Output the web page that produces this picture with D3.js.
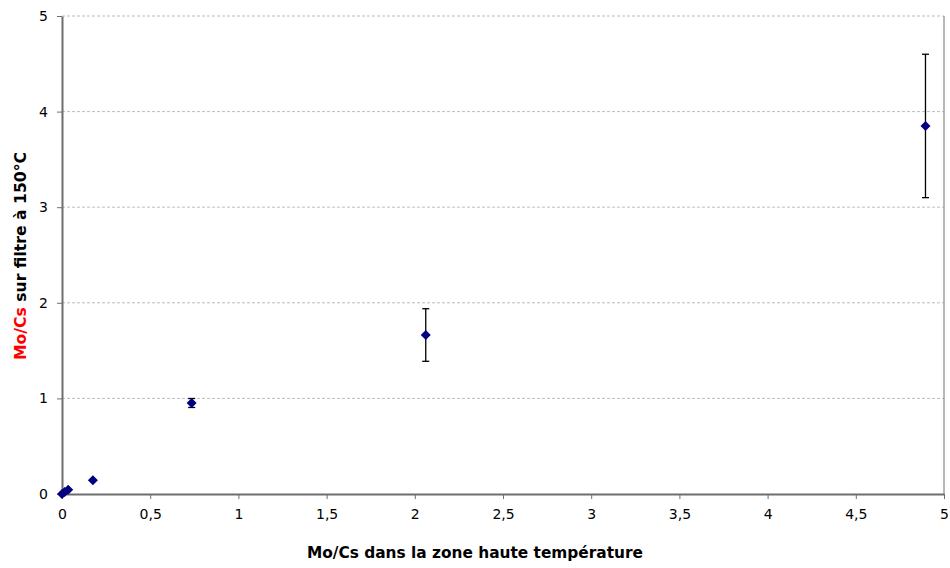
<!DOCTYPE html>
<html><head><meta charset="utf-8">
<script src="https://cdn.jsdelivr.net/npm/d3@7"></script>
<style>body{margin:0;background:#fff}svg{display:block}</style>
</head><body>
<svg id="c" width="950" height="568"></svg>
<script>
const xValues = [0, 0.015, 0.035, 0.175, 0.735, 2.062, 4.895];
const yValues = [0, 0.02, 0.045, 0.145, 0.952, 1.663, 3.85];
const yErrors = [0, 0, 0, 0, 0.047, 0.275, 0.75];
const xTicks = [0, 0.5, 1, 1.5, 2, 2.5, 3, 3.5, 4, 4.5, 5];
const yTicks = [0, 1, 2, 3, 4, 5];
const fmt = d => String(d).replace('.', ',');

const svg = d3.select('#c');
const m = {l: 62, r: 944, t: 16, b: 494};
const x = d3.scaleLinear().domain([0, 5]).range([m.l, m.r]);
const y = d3.scaleLinear().domain([0, 5]).range([m.b, m.t]);
const font = "Tahoma, 'DejaVu Sans', Verdana, sans-serif";

// gridlines
svg.append('g').selectAll('line').data(yTicks.filter(d => d > 0)).join('line')
  .attr('x1', m.l).attr('x2', m.r).attr('y1', d => y(d)).attr('y2', d => y(d))
  .attr('stroke', '#bdbdbd').attr('stroke-width', 1).attr('stroke-dasharray', '3,2');
// right border
svg.append('line').attr('x1', m.r).attr('x2', m.r).attr('y1', m.t).attr('y2', m.b)
  .attr('stroke', '#a0a0a0').attr('stroke-width', 1.5);

// axes
const xAxis = svg.append('g').attr('transform', `translate(0,${m.b})`)
  .call(d3.axisBottom(x).tickValues(xTicks).tickFormat(fmt).tickSize(5).tickPadding(10).tickSizeOuter(0));
const yAxis = svg.append('g').attr('transform', `translate(${m.l},0)`)
  .call(d3.axisLeft(y).tickValues(yTicks).tickFormat(fmt).tickSize(5).tickPadding(9).tickSizeOuter(0));
[xAxis, yAxis].forEach(a => {
  a.select('.domain').attr('stroke', '#6e6e6e').attr('stroke-width', 2);
  a.selectAll('.tick line').attr('stroke', '#6e6e6e').attr('stroke-width', 1);
  a.selectAll('text').attr('font-family', font).attr('font-size', 14).attr('fill', '#000');
});

// error bars
const eb = svg.append('g');
const ed = xValues.map((v, i) => ({x: v, y: yValues[i], e: yErrors[i]})).filter(d => d.e > 0);
eb.selectAll('.v').data(ed).join('line')
  .attr('x1', d => x(d.x)).attr('x2', d => x(d.x))
  .attr('y1', d => y(d.y + d.e)).attr('y2', d => y(d.y - d.e))
  .attr('stroke', '#000').attr('stroke-width', 1.3);
['+', '-'].forEach(s => {
  eb.selectAll('.c' + (s === '+' ? 'p' : 'm')).data(ed).join('line')
    .attr('x1', d => x(d.x) - 3.5).attr('x2', d => x(d.x) + 3.5)
    .attr('y1', d => y(s === '+' ? d.y + d.e : d.y - d.e))
    .attr('y2', d => y(s === '+' ? d.y + d.e : d.y - d.e))
    .attr('stroke', '#000').attr('stroke-width', 1.3);
});

// markers
svg.append('g').selectAll('path').data(xValues.map((v, i) => [v, yValues[i]])).join('path')
  .attr('d', d3.symbol(d3.symbolSquare, 50)())
  .attr('transform', d => `translate(${x(d[0])},${y(d[1])}) rotate(45)`)
  .attr('fill', '#000080');

// axis titles
svg.append('text').attr('x', 475).attr('y', 558).attr('text-anchor', 'middle')
  .attr('font-family', font).attr('font-weight', 'bold').attr('font-size', 16)
  .attr('textLength', 336).attr('lengthAdjust', 'spacingAndGlyphs')
  .text('Mo/Cs dans la zone haute température');
const yt = svg.append('text').attr('transform', 'translate(26,256) rotate(-90)')
  .attr('text-anchor', 'middle').attr('font-family', font).attr('font-weight', 'bold').attr('font-size', 16)
  .attr('textLength', 208).attr('lengthAdjust', 'spacingAndGlyphs');
yt.append('tspan').attr('fill', '#ff0000').text('Mo/Cs');
yt.append('tspan').attr('fill', '#000').text(' sur filtre à 150°C');
</script>
</body></html>
